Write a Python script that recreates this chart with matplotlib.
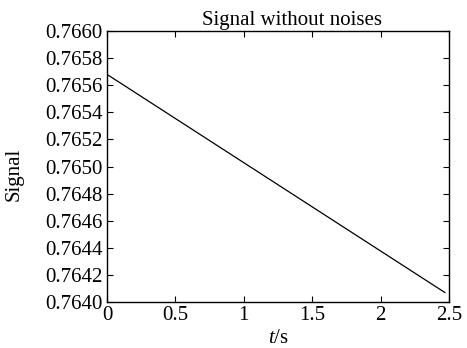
import numpy as np
import matplotlib.pyplot as plt

# signal trace (straight decay)
t = [0.0, 2.47]
signal = [0.76568, 0.76407]

xticks = [0, 0.5, 1, 1.5, 2, 2.5]
xtick_labels = ['0', '0.5', '1', '1.5', '2', '2.5']
yticks = np.round(np.arange(0.7640, 0.76601, 0.0002), 4)

plt.rcParams['font.family'] = ['Liberation Serif', 'DejaVu Serif']
plt.rcParams['mathtext.fontset'] = 'custom'
plt.rcParams['mathtext.it'] = 'Liberation Serif:italic'
plt.rcParams['mathtext.rm'] = 'Liberation Serif'

fig = plt.figure(figsize=(4.67, 3.48), dpi=100)
ax = fig.add_axes([107 / 467, 1 - 302 / 348, 342 / 467, 271 / 348])

ax.plot(t, signal, color='black', linewidth=0.9)

ax.set_xlim(0, 2.5)
ax.set_ylim(0.7640, 0.7660)
ax.set_xticks(xticks)
ax.set_xticklabels(xtick_labels)
ax.set_yticks(yticks)
ax.set_yticklabels(['%.4f' % v for v in yticks])
ax.tick_params(direction='in', length=4, width=0.8, labelsize=15,
               top=True, right=True, pad=3)
for s in ax.spines.values():
    s.set_linewidth(1.0)

ax.set_title('Signal without noises', fontsize=15, pad=4, x=0.542)
ax.set_xlabel(r'$t$/s', fontsize=15, labelpad=3)
ax.set_ylabel('Signal', fontsize=15)
ax.yaxis.set_label_coords(-0.244, 0.472)

fig.savefig('out.png', dpi=100)
